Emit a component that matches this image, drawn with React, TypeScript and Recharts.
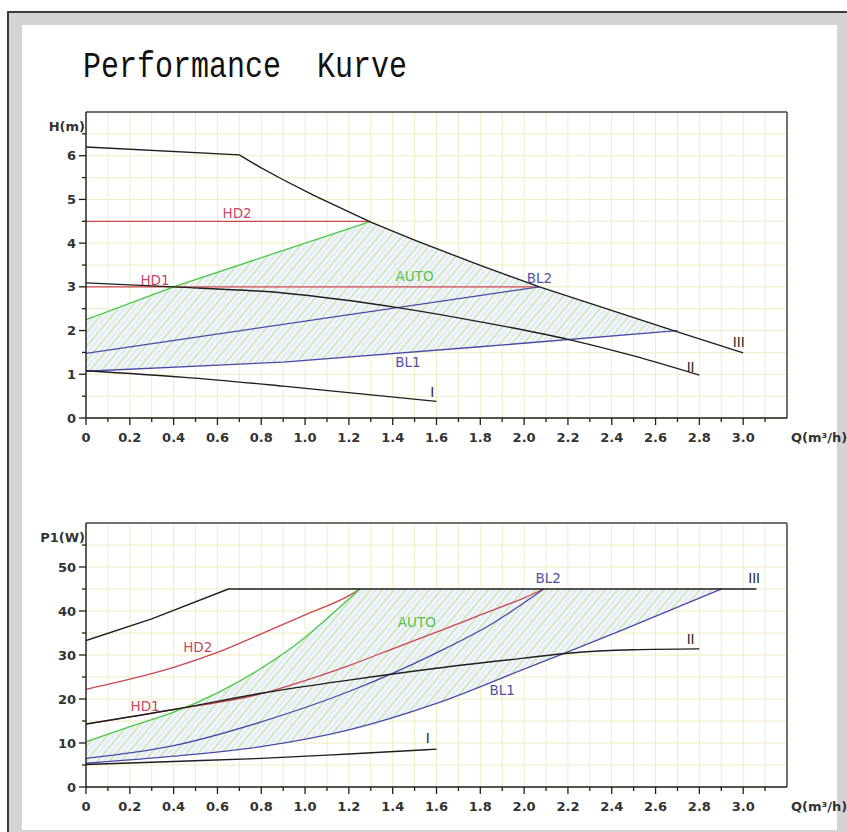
import React from 'react'
import {
  ComposedChart,
  Line,
  Area,
  XAxis,
  YAxis,
  CartesianGrid,
  ReferenceLine,
  ReferenceDot,
} from 'recharts'

// flow axis ticks (m³/h)
const qMajorTicks = [0, 0.2, 0.4, 0.6, 0.8, 1.0, 1.2, 1.4, 1.6, 1.8, 2.0, 2.2, 2.4, 2.6, 2.8, 3.0]
const qMinorTicks = [0.1, 0.3, 0.5, 0.7, 0.9, 1.1, 1.3, 1.5, 1.7, 1.9, 2.1, 2.3, 2.5, 2.7, 2.9, 3.1]
const hMajorTicks = [0, 1, 2, 3, 4, 5, 6]
const hMinorTicks = [0.5, 1.5, 2.5, 3.5, 4.5, 5.5, 6.5]
const pMajorTicks = [0, 10, 20, 30, 40, 50]
const pMinorTicks = [5, 15, 25, 35, 45, 55]

// head curves [Q, H]
const headIII = [[0, 6.2], [0.7, 6.02], [0.8, 5.72], [0.9, 5.45], [1.04, 5.09], [1.3, 4.48], [1.5, 4.07], [1.8, 3.49], [2.07, 3.0], [2.7, 1.97], [3.0, 1.49]]
const headII = [[0, 3.09], [0.4, 3.0], [0.9, 2.86], [1.43, 2.52], [1.8, 2.2], [2.2, 1.8], [2.5, 1.42], [2.8, 0.98]]
const headI = [[0, 1.08], [0.45, 0.93], [0.9, 0.73], [1.6, 0.38]]
const headHD2 = [[0, 4.5], [1.3, 4.5]]
const headHD1 = [[0, 3.0], [2.07, 3.0]]
const headAUTO = [[0, 2.25], [0.4, 3.0], [1.3, 4.5]]
const headBL2 = [[0, 1.48], [2.07, 3.0]]
const headBL1 = [[0, 1.07], [0.9, 1.28], [1.8, 1.63], [2.7, 2.0]]

// hatched AUTO range in head chart
const headHatchQ = [0, 0.4, 0.9, 1.3, 1.5, 1.8, 2.07, 2.7]
const headHatchLow = [1.07, 1.17, 1.28, 1.44, 1.51, 1.63, 1.74, 2.0]
const headHatchHigh = [2.25, 3.0, 3.85, 4.48, 4.07, 3.49, 3.0, 1.97]

// power curves [Q, P1]
const powerIII = [[0, 33.3], [0.3, 38.2], [0.65, 45], [3.06, 45]]
const powerII = [[0, 14.3], [0.4, 17.6], [0.8, 21.3], [1.2, 24.3], [1.6, 27], [2.0, 29.3], [2.2, 30.4], [2.5, 31.2], [2.8, 31.4]]
const powerI = [[0, 5.1], [0.4, 5.8], [0.8, 6.5], [1.2, 7.5], [1.6, 8.6]]
const powerHD2 = [[0, 22.2], [0.2, 24.5], [0.4, 27.2], [0.6, 30.6], [0.8, 34.8], [1.0, 39.1], [1.2, 43.5], [1.25, 45]]
const powerHD1 = [[0, 14.3], [0.4, 17.6], [0.8, 21.2], [1.0, 24.2], [1.2, 27.6], [1.4, 31.4], [1.6, 35.2], [1.8, 39.1], [2.0, 43], [2.09, 45]]
const powerAUTO = [[0, 10.3], [0.2, 13.7], [0.4, 17], [0.6, 21.4], [0.8, 27], [1.0, 34], [1.15, 40.5], [1.25, 45]]
const powerBL2 = [[0, 6.5], [0.4, 9.4], [0.8, 14.8], [1.2, 21.7], [1.6, 30.5], [1.85, 37], [2.09, 45]]
const powerBL1 = [[0, 5.4], [0.4, 7], [0.8, 9.2], [1.2, 13], [1.6, 19], [2.0, 26.8], [2.2, 30.7], [2.45, 35.7], [2.9, 45]]

const powerHatchQ = [0, 0.2, 0.4, 0.6, 0.8, 1.0, 1.15, 1.25, 1.6, 2.0, 2.2, 2.45, 2.9]
const powerHatchLow = [5.4, 6.2, 7.0, 8.0, 9.2, 11.0, 12.3, 13.3, 19.0, 26.8, 30.7, 35.7, 45]
const powerHatchHigh = [10.3, 13.7, 17.0, 21.4, 27.0, 34.0, 40.5, 45, 45, 45, 45, 45, 45]

// curve labels [Q, value, text]
const headLabels = [
  [0.69, 4.68, 'HD2'], [0.315, 3.15, 'HD1'], [1.5, 3.24, 'AUTO'], [2.07, 3.2, 'BL2'],
  [1.47, 1.28, 'BL1'], [2.98, 1.74, 'III'], [2.76, 1.16, 'II'], [1.58, 0.6, 'I'],
]
const powerLabels = [
  [2.11, 47.5, 'BL2'], [3.05, 47.5, 'III'], [1.51, 37.5, 'AUTO'], [0.51, 31.8, 'HD2'],
  [0.27, 18.4, 'HD1'], [1.9, 22, 'BL1'], [2.76, 33.6, 'II'], [1.56, 11.1, 'I'],
]

const BLACK = '#1e1e1e'
const RED = '#cc4650'
const GREEN = '#46c846'
const BLUE = '#4a4aa6'
const GRID = '#eeeec2'
const FONT = "'DejaVu Sans', sans-serif"

const labelColor: Record<string, string> = {
  HD2: '#c44a66', HD1: '#c44a66', AUTO: '#55c255', BL2: '#5252a4', BL1: '#5252a4',
  III: BLACK, II: BLACK, I: BLACK,
}

const pts = (arr: number[][]) => arr.map(([q, v]) => ({ q, v }))
const range = (qs: number[], lo: number[], hi: number[]) => qs.map((q, i) => ({ q, r: [lo[i], hi[i]] }))

const qTicks = [...qMajorTicks, ...qMinorTicks].sort((a, b) => a - b)
const hTicks = [...hMajorTicks, ...hMinorTicks].sort((a, b) => a - b)
const pTicks = [...pMajorTicks, ...pMinorTicks].sort((a, b) => a - b)

function QTick(props: any) {
  const { x, y, payload } = props
  const major = qMajorTicks.includes(payload.value)
  const text = payload.value === 0 ? '0' : payload.value.toFixed(1)
  return (
    <g>
      <line x1={x} y1={y} x2={x} y2={y + (major ? 7 : 4)} stroke={BLACK} strokeWidth={1.3} />
      {major && (
        <text x={x} y={y + 24} textAnchor="middle" fontSize={13} fontWeight="bold" fontFamily={FONT} fill="#333">
          {text}
        </text>
      )}
    </g>
  )
}

function makeVTick(majors: number[]) {
  return function VTick(props: any) {
    const { x, y, payload } = props
    const major = majors.includes(payload.value)
    return (
      <g>
        <line x1={x} y1={y} x2={x - (major ? 7 : 4)} y2={y} stroke={BLACK} strokeWidth={1.3} />
        {major && (
          <text x={x - 10} y={y + 4.5} textAnchor="end" fontSize={13} fontWeight="bold" fontFamily={FONT} fill="#333">
            {payload.value}
          </text>
        )}
      </g>
    )
  }
}

function Hatch({ id }: { id: string }) {
  return (
    <defs>
      <pattern id={id} width="9" height="9" patternUnits="userSpaceOnUse" patternTransform="rotate(40)">
        <rect width="9" height="9" fill="#f1f5fb" />
        <line x1="1" y1="0" x2="1" y2="9" stroke="#c6e4a4" strokeWidth="1.4" />
        <line x1="5.5" y1="0" x2="5.5" y2="9" stroke="#d8e2f2" strokeWidth="1" />
      </pattern>
    </defs>
  )
}

function curve(data: number[][], color: string, type: 'linear' | 'monotone', w = 1.4) {
  return (
    <Line
      data={pts(data)}
      dataKey="v"
      type={type}
      stroke={color}
      strokeWidth={w}
      dot={false}
      activeDot={false}
      isAnimationActive={false}
    />
  )
}

function labels(list: (number | string)[][]) {
  return list.map(([q, v, t]) => (
    <ReferenceDot
      key={String(t) + q}
      x={q as number}
      y={v as number}
      r={0}
      ifOverflow="visible"
      shape={(p: any) => (
        <text
          x={p.cx}
          y={p.cy + 5}
          textAnchor="middle"
          fontSize={13.5}
          fontFamily={FONT}
          fill={labelColor[t as string]}
        >
          {t as string}
        </text>
      )}
    />
  ))
}

function axisTitle(text: string) {
  return (props: any) => {
    const { viewBox } = props
    return (
      <text
        x={viewBox.x + viewBox.width - 1}
        y={viewBox.y + 19}
        textAnchor="end"
        fontSize={13}
        fontWeight="bold"
        fontFamily={FONT}
        fill="#333"
      >
        {text}
      </text>
    )
  }
}

function qTitle(props: any) {
  const { viewBox } = props
  return (
    <text
      x={viewBox.x + viewBox.width + 4}
      y={viewBox.y + 24}
      textAnchor="start"
      fontSize={13}
      fontWeight="bold"
      fontFamily={FONT}
      fill="#333"
    >
      Q(m³/h)
    </text>
  )
}

export default function App() {
  return (
    <div style={{ position: 'absolute', left: 0, top: 0, width: 847, height: 832, background: '#fff', overflow: 'hidden' }}>
      <div
        style={{
          position: 'absolute', left: 7, top: 11, width: 840, height: 821,
          background: '#d4d4d4', borderTop: '2px solid #3a3a3a', borderLeft: '2px solid #3a3a3a',
        }}
      />
      <div style={{ position: 'absolute', left: 22, top: 25, width: 815, height: 805, background: '#fff' }} />
      <div
        style={{
          position: 'absolute', left: 83, top: 48, fontFamily: "'Liberation Mono', monospace",
          fontSize: 30, whiteSpace: 'pre', color: '#111', transform: 'scaleY(1.25)', transformOrigin: 'left top',
          lineHeight: '30px',
        }}
      >
        Performance  Kurve
      </div>

      <div style={{ position: 'absolute', left: 0, top: 0 }}>
        <ComposedChart width={847} height={460} margin={{ top: 112, right: 60, bottom: 12, left: 46 }}>
          <Hatch id="hatchHead" />
          <CartesianGrid stroke={GRID} strokeWidth={1} />
          <XAxis
            type="number"
            dataKey="q"
            domain={[0, 3.2]}
            ticks={qTicks}
            allowDataOverflow
            height={30}
            tickSize={0}
            tickMargin={0}
            tickLine={false}
            interval={0}
            tick={<QTick />}
            axisLine={{ stroke: BLACK, strokeWidth: 1.4 }}
            label={{ content: qTitle }}
          />
          <YAxis
            type="number"
            domain={[0, 7]}
            ticks={hTicks}
            allowDataOverflow
            width={40}
            tickSize={0}
            tickMargin={0}
            tickLine={false}
            interval={0}
            tick={makeVTick(hMajorTicks)}
            axisLine={{ stroke: BLACK, strokeWidth: 1.4 }}
            label={{ content: axisTitle('H(m)') }}
          />
          <ReferenceLine x={3.2} stroke="#444" strokeWidth={1.5} />
          <ReferenceLine y={7} stroke="#444" strokeWidth={1.5} />
          <Area
            data={range(headHatchQ, headHatchLow, headHatchHigh)}
            dataKey="r"
            type="linear"
            stroke="none"
            fill="url(#hatchHead)"
            fillOpacity={1}
            activeDot={false}
            isAnimationActive={false}
          />
          {curve(headHD2, RED, 'linear', 1.3)}
          {curve(headHD1, RED, 'linear', 1.3)}
          {curve(headAUTO, GREEN, 'linear', 1.3)}
          {curve(headBL2, BLUE, 'linear', 1.3)}
          {curve(headBL1, BLUE, 'linear', 1.3)}
          {curve(headIII, BLACK, 'linear')}
          {curve(headII, BLACK, 'monotone')}
          {curve(headI, BLACK, 'monotone')}
          {labels(headLabels)}
        </ComposedChart>
      </div>

      <div style={{ position: 'absolute', left: 0, top: 470 }}>
        <ComposedChart width={847} height={362} margin={{ top: 53, right: 60, bottom: 15, left: 46 }}>
          <Hatch id="hatchPower" />
          <CartesianGrid stroke={GRID} strokeWidth={1} />
          <XAxis
            type="number"
            dataKey="q"
            domain={[0, 3.2]}
            ticks={qTicks}
            allowDataOverflow
            height={30}
            tickSize={0}
            tickMargin={0}
            tickLine={false}
            interval={0}
            tick={<QTick />}
            axisLine={{ stroke: BLACK, strokeWidth: 1.4 }}
            label={{ content: qTitle }}
          />
          <YAxis
            type="number"
            domain={[0, 60]}
            ticks={pTicks}
            allowDataOverflow
            width={40}
            tickSize={0}
            tickMargin={0}
            tickLine={false}
            interval={0}
            tick={makeVTick(pMajorTicks)}
            axisLine={{ stroke: BLACK, strokeWidth: 1.4 }}
            label={{ content: axisTitle('P1(W)') }}
          />
          <ReferenceLine x={3.2} stroke="#444" strokeWidth={1.5} />
          <ReferenceLine y={60} stroke="#444" strokeWidth={1.5} />
          <Area
            data={range(powerHatchQ, powerHatchLow, powerHatchHigh)}
            dataKey="r"
            type="monotone"
            stroke="none"
            fill="url(#hatchPower)"
            fillOpacity={1}
            activeDot={false}
            isAnimationActive={false}
          />
          {curve(powerHD2, RED, 'monotone', 1.3)}
          {curve(powerHD1, RED, 'monotone', 1.3)}
          {curve(powerAUTO, GREEN, 'monotone', 1.3)}
          {curve(powerBL2, BLUE, 'monotone', 1.3)}
          {curve(powerBL1, BLUE, 'monotone', 1.3)}
          {curve(powerIII, BLACK, 'linear')}
          {curve(powerII, BLACK, 'monotone')}
          {curve(powerI, BLACK, 'monotone')}
          {labels(powerLabels)}
        </ComposedChart>
      </div>
    </div>
  )
}
